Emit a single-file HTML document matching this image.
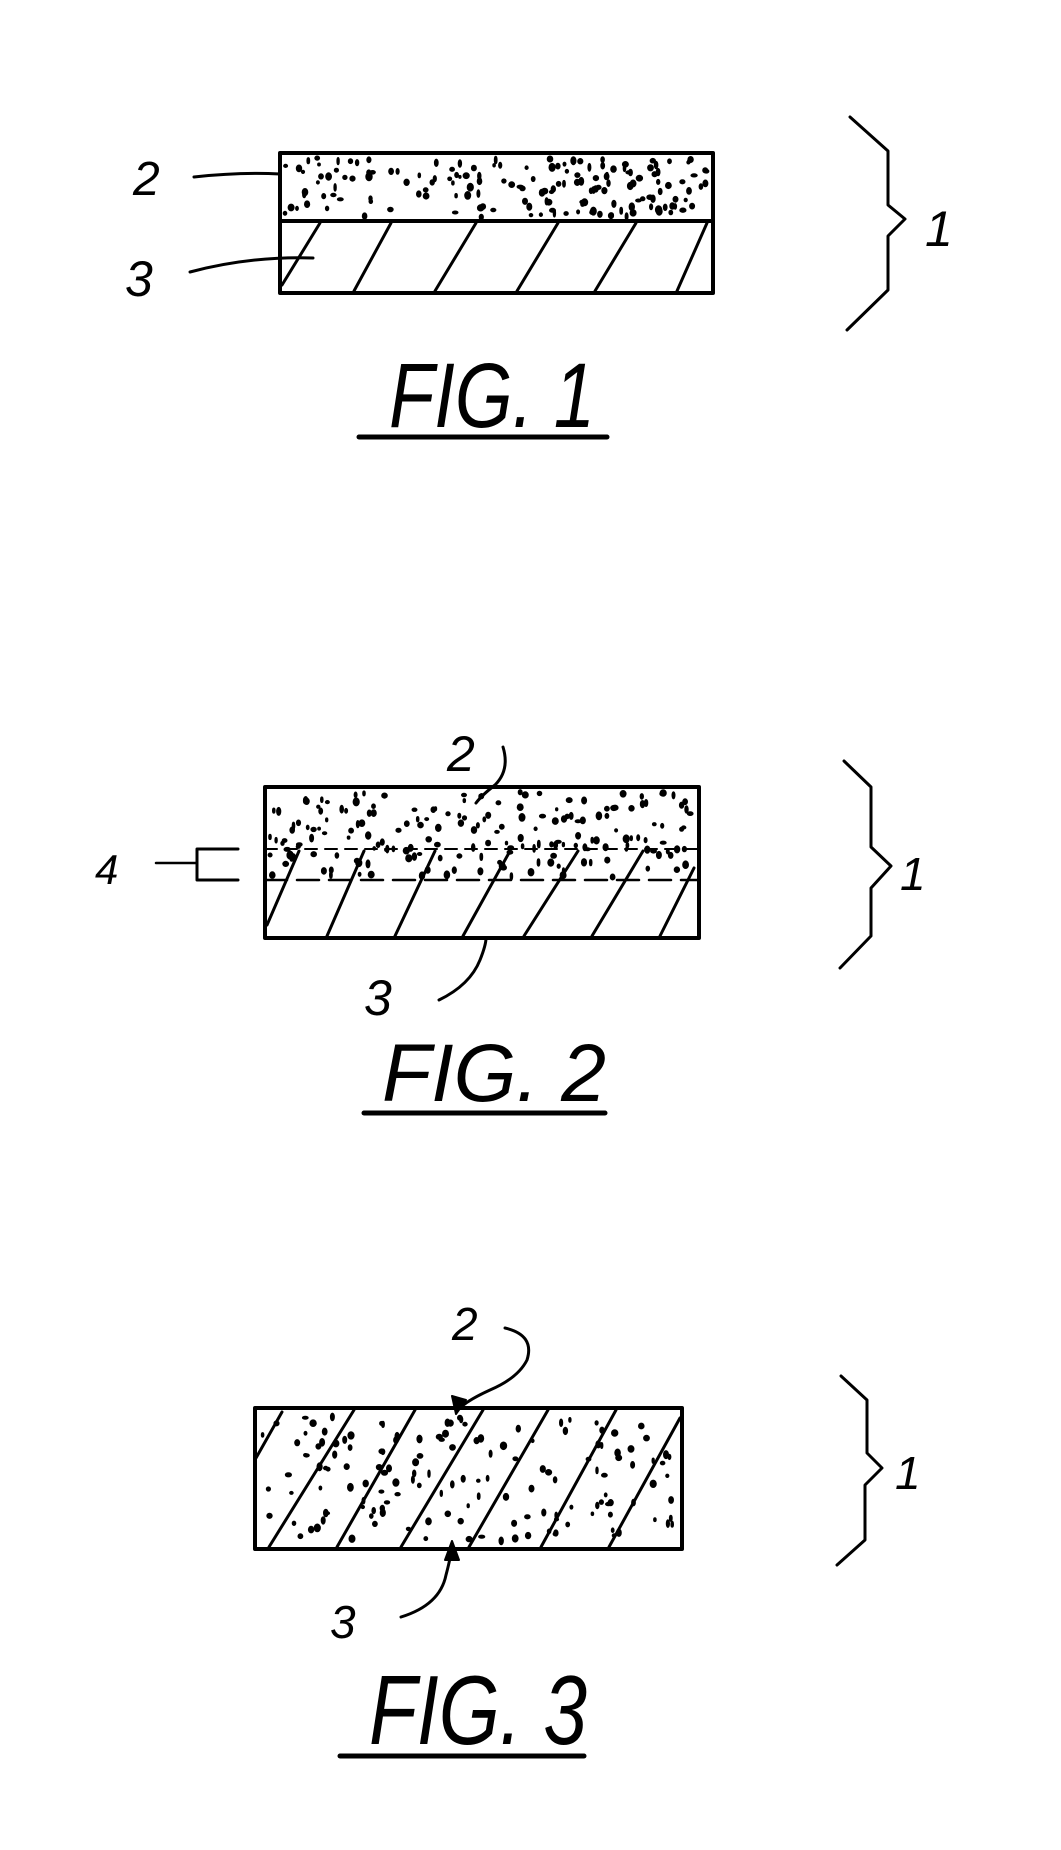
<!DOCTYPE html>
<html><head><meta charset="utf-8"><style>
html,body{margin:0;padding:0;background:#fff;}
svg{display:block;}
text{font-family:"Liberation Sans",sans-serif;font-style:italic;fill:#000;}
</style></head><body>
<svg id="s" width="1061" height="1850" viewBox="0 0 1061 1850" xmlns="http://www.w3.org/2000/svg">
<g fill="none" stroke="#000" stroke-linecap="round" stroke-linejoin="round">
<!-- FIG 1 -->
<g id="dots1"></g>
<rect x="280" y="153" width="433" height="140" stroke-width="4"/>
<line x1="280" y1="221" x2="713" y2="221" stroke-width="4"/>
<g stroke-width="3">
<line x1="282" y1="285" x2="320" y2="223"/>
<line x1="354" y1="291" x2="391" y2="223"/>
<line x1="435" y1="291" x2="476" y2="223"/>
<line x1="517" y1="291" x2="558" y2="223"/>
<line x1="595" y1="291" x2="636" y2="223"/>
<line x1="677" y1="291" x2="707" y2="223"/>
</g>
<path d="M194,177 Q240,172 280,174" stroke-width="3"/>
<path d="M190,272 Q250,256 313,258" stroke-width="3"/>
<polyline points="850,117 888,151 888,205 905,219 888,236 888,290 847,330" stroke-width="3"/>
<line x1="359" y1="437" x2="607" y2="437" stroke-width="5"/>

<!-- FIG 2 -->
<g id="dots2"></g>
<rect x="265" y="787" width="434" height="151" stroke-width="4"/>
<line x1="265" y1="849" x2="699" y2="849" stroke-width="2" stroke-dasharray="12,8"/>
<line x1="265" y1="880" x2="699" y2="880" stroke-width="2.5" stroke-dasharray="22,10"/>
<g stroke-width="3">
<line x1="267" y1="925" x2="299" y2="851"/>
<line x1="327" y1="936" x2="364" y2="851"/>
<line x1="395" y1="936" x2="435" y2="851"/>
<line x1="463" y1="936" x2="510" y2="851"/>
<line x1="524" y1="936" x2="578" y2="851"/>
<line x1="592" y1="936" x2="643" y2="851"/>
<line x1="660" y1="936" x2="694" y2="868"/>
</g>
<polyline points="156,863 197,863" stroke-width="2.5"/>
<polyline points="238,849 197,849 197,880 238,880" stroke-width="3"/>
<path d="M503,747 Q510,770 495,785 Q482,795 476,803" stroke-width="3"/>
<path d="M439,1000 Q470,985 480,960 Q486,945 486,938" stroke-width="3"/>
<polyline points="844,761 871,787 871,847 891,866 871,888 871,936 840,968" stroke-width="3"/>
<line x1="364" y1="1113" x2="605" y2="1113" stroke-width="5"/>

<!-- FIG 3 -->
<g id="dots3"></g>
<rect x="255" y="1408" width="427" height="141" stroke-width="4"/>
<g stroke-width="3">
<line x1="256" y1="1458" x2="282" y2="1412"/>
<line x1="269" y1="1547" x2="354" y2="1410"/>
<line x1="337" y1="1547" x2="415" y2="1410"/>
<line x1="401" y1="1547" x2="483" y2="1410"/>
<line x1="469" y1="1547" x2="548" y2="1410"/>
<line x1="541" y1="1547" x2="616" y2="1410"/>
<line x1="609" y1="1547" x2="680" y2="1418"/>
</g>
<path d="M505,1328 Q535,1335 527,1360 Q518,1378 490,1390 Q468,1400 460,1408" stroke-width="3"/>
<polygon points="456,1414 452,1396 466,1400" fill="#000" stroke-width="2"/>
<path d="M401,1617 Q440,1605 446,1575 Q450,1560 451,1552" stroke-width="3"/>
<polygon points="452,1541 445,1560 459,1560" fill="#000" stroke-width="2"/>
<polyline points="841,1376 867,1400 867,1453 882,1468 865,1485 865,1540 837,1565" stroke-width="3"/>
<line x1="340" y1="1756" x2="584" y2="1756" stroke-width="5"/>
</g>

<g>
<text x="133" y="195" font-size="48">2</text>
<text x="125" y="296" font-size="50">3</text>
<text x="925" y="246" font-size="50">1</text>
<text x="389" y="427" font-size="92" textLength="206" lengthAdjust="spacingAndGlyphs">FIG. 1</text>

<text x="95" y="884" font-size="42">4</text>
<text x="447" y="771" font-size="50">2</text>
<text x="364" y="1015" font-size="50">3</text>
<text x="900" y="890" font-size="46">1</text>
<text x="382" y="1101" font-size="82" textLength="224" lengthAdjust="spacingAndGlyphs">FIG. 2</text>

<text x="452" y="1340" font-size="46">2</text>
<text x="330" y="1638" font-size="46">3</text>
<text x="895" y="1489" font-size="46">1</text>
<text x="369" y="1744" font-size="98" textLength="218" lengthAdjust="spacingAndGlyphs">FIG. 3</text>
</g>
</svg>
<script>
(function(){
var seed=7;function r(){seed=(seed*16807)%2147483647;return seed/2147483647;}
function fill(id,x,y,w,h,n){var g=document.getElementById(id),s='';
for(var i=0;i<n;i++){var cx=x+r()*w,cy=y+r()*h,rx=1.2+r()*2,ry=1.5+r()*2.5;
s+='<ellipse cx="'+cx.toFixed(1)+'" cy="'+cy.toFixed(1)+'" rx="'+rx.toFixed(1)+'" ry="'+ry.toFixed(1)+'" fill="#000"/>';}
g.innerHTML=s;}
fill('dots1',285,158,423,60,170);
fill('dots2',270,792,424,86,190);
fill('dots3',260,1413,417,131,150);
})();
</script>
</body></html>
